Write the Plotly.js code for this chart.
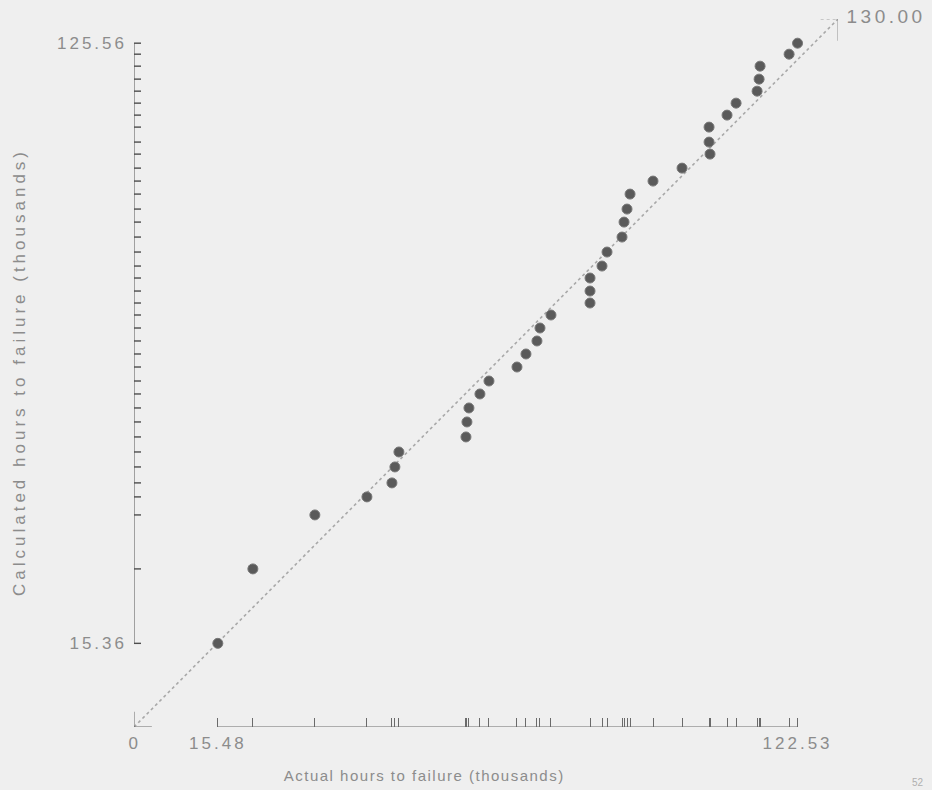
<!DOCTYPE html>
<html>
<head>
<meta charset="utf-8">
<script src="https://cdn.plot.ly/plotly-3.0.1.min.js"></script>
<style>
  html, body { margin: 0; padding: 0; background: #efefef; }
  #chart { width: 932px; height: 790px; }
  .xtick text, .ytick text { letter-spacing: 3px; }
  .annotation[data-index="0"] text { letter-spacing: 3px; }
  .annotation[data-index="1"] text { letter-spacing: 3.5px; }
  .annotation[data-index="2"] text { letter-spacing: 1.5px; }
  .annotation[data-index="3"] text { letter-spacing: 4px; }
</style>
</head>
<body>
<div id="chart"></div>
<script>
// Actual hours to failure (thousands)
const actualHours = [15.48, 21.95, 33.40, 43.01, 47.63, 48.18, 48.92, 61.30, 61.48, 61.85,
  63.88, 65.55, 70.72, 72.38, 74.41, 74.97, 77.00, 84.21, 84.21, 84.21,
  86.42, 87.35, 90.12, 90.49, 91.04, 91.60, 95.84, 101.20, 106.37, 106.19,
  106.19, 109.51, 111.18, 115.06, 115.43, 115.61, 120.97, 122.53];
// Calculated hours to failure (thousands)
const calcHours = [15.36, 29.03, 38.94, 42.25, 44.82, 47.75, 50.50, 53.26, 56.01, 58.58,
  61.15, 63.53, 66.10, 68.49, 70.88, 73.26, 75.65, 77.85, 80.05, 82.44,
  84.64, 87.21, 89.96, 92.71, 95.10, 97.85, 100.24, 102.62, 105.19, 107.40,
  110.15, 112.35, 114.55, 116.75, 118.96, 121.34, 123.54, 125.56];
// reference line (perfect agreement) runs from 0 to this value
const axisMax = 130.00;

const xTitle = 'Actual hours to failure (thousands)';
const yTitle = 'Calculated hours to failure (thousands)';

const xMin = Math.min(...actualHours), xMax = Math.max(...actualHours);
const yMin = Math.min(...calcHours), yMax = Math.max(...calcHours);

const labelColor = '#8c8c8c';
const axisColor = '#6a6a6a';
const font = 'Liberation Sans, Arial, sans-serif';

const xTickText = actualHours.map(v => (v === xMin || v === xMax) ? v.toFixed(2) : '');

const traces = [
  {
    x: [0, axisMax], y: [0, axisMax],
    mode: 'lines', type: 'scatter',
    line: { color: '#a8a8a8', width: 1.6, dash: 'dot' },
    hoverinfo: 'skip', showlegend: false
  },
  {
    x: actualHours, y: calcHours,
    mode: 'markers', type: 'scatter',
    marker: { size: 10, color: '#5a5a5a', line: { color: '#787878', width: 1 } },
    cliponaxis: false, showlegend: false
  }
];

const shapes = [
  { type: 'line', xref: 'x', yref: 'y', x0: xMin, x1: xMax, y0: 0, y1: 0,
    line: { color: axisColor, width: 1 } },
  { type: 'line', xref: 'x', yref: 'y', x0: 0, x1: 0, y0: yMin, y1: yMax,
    line: { color: axisColor, width: 1.2 } },
  { type: 'line', xref: 'x', yref: 'y', x0: 0, x1: 0, y0: 0, y1: 2.8,
    line: { color: axisColor, width: 1 } },
  { type: 'line', xref: 'x', yref: 'y', x0: 0, x1: 3.3, y0: 0, y1: 0,
    line: { color: axisColor, width: 1 } },
  { type: 'line', xref: 'x', yref: 'y', x0: axisMax - 3.2, x1: axisMax, y0: axisMax, y1: axisMax,
    line: { color: '#a0a0a0', width: 1, dash: 'dot' } },
  { type: 'line', xref: 'x', yref: 'y', x0: axisMax, x1: axisMax, y0: axisMax, y1: axisMax - 4,
    line: { color: '#909090', width: 1 } }
];
// rug ticks on the y axis, one per calculated value, pointing right
calcHours.forEach(v => {
  shapes.push({ type: 'line', xref: 'x', yref: 'y', xsizemode: 'pixel', xanchor: 0,
    x0: 0, x1: 7, y0: v, y1: v, line: { color: '#4d4d4d', width: 1.4 } });
});

const annotations = [
  { x: 0, y: 0, xref: 'x', yref: 'y', text: '0', showarrow: false,
    xanchor: 'center', yanchor: 'top', yshift: -5,
    font: { family: font, size: 17, color: labelColor } },
  { x: axisMax, y: axisMax, xref: 'x', yref: 'y', text: axisMax.toFixed(2), showarrow: false,
    xanchor: 'left', yanchor: 'middle', xshift: 17, yshift: 3,
    font: { family: font, size: 19, color: labelColor } },
  { x: 424, y: 775, xref: 'paper', yref: 'paper', text: xTitle, showarrow: false,
    xanchor: 'center', yanchor: 'middle',
    font: { family: font, size: 15, color: labelColor } },
  { x: 20, y: 372, xref: 'paper', yref: 'paper', text: yTitle, showarrow: false, textangle: -90,
    xanchor: 'center', yanchor: 'middle',
    font: { family: font, size: 17, color: labelColor } },
  { x: 918, y: 782, xref: 'paper', yref: 'paper', text: '52', showarrow: false,
    xanchor: 'center', yanchor: 'middle',
    font: { family: font, size: 10, color: '#b0b0b0' } }
];

const W = 932, H = 790;
const margin = { l: 134, r: 94, t: 19, b: 63, pad: 0 };
const pw = W - margin.l - margin.r, ph = H - margin.t - margin.b;
annotations.forEach(a => {
  if (a.xref === 'paper') {
    a.x = (a.x - margin.l) / pw;
    a.y = 1 - (a.y - margin.t) / ph;
  }
});

const layout = {
  width: W, height: H,
  margin: margin,
  paper_bgcolor: '#efefef',
  plot_bgcolor: '#efefef',
  showlegend: false,
  xaxis: {
    range: [0, axisMax], showgrid: false, zeroline: false, showline: false,
    tickmode: 'array', tickvals: actualHours, ticktext: xTickText,
    ticks: 'inside', ticklen: 9, tickwidth: 1, tickcolor: axisColor,
    ticklabelstandoff: 4,
    tickfont: { family: font, size: 17, color: labelColor }
  },
  yaxis: {
    range: [0, axisMax], showgrid: false, zeroline: false, showline: false,
    tickmode: 'array', tickvals: [yMin, yMax], ticktext: [yMin.toFixed(2), yMax.toFixed(2)],
    ticks: '', ticklabelstandoff: 6,
    tickfont: { family: font, size: 17, color: labelColor }
  },
  shapes: shapes,
  annotations: annotations
};

Plotly.newPlot('chart', traces, layout, { displayModeBar: false, staticPlot: true });
</script>
</body>
</html>
